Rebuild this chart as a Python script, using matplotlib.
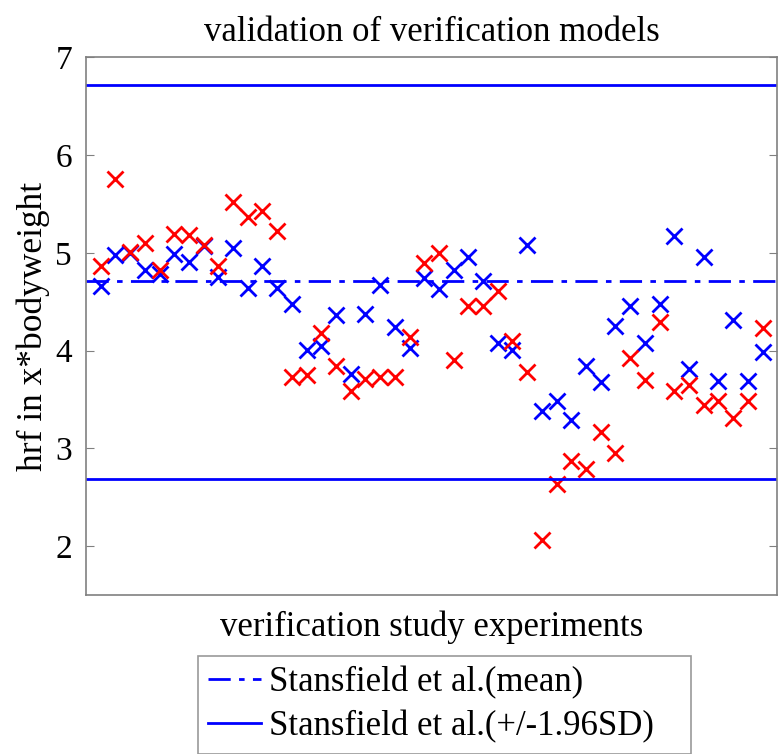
import matplotlib
matplotlib.use("Agg")
import matplotlib.pyplot as plt
import numpy as np

# hrf values (x*bodyweight) per verification experiment
experiments = np.arange(1, 47)
model_a = [4.66, 4.98, 5.00, 4.82, 4.78, 4.99, 4.91, 5.07, 4.75, 5.05,
           4.64, 4.86, 4.64, 4.48, 4.01, 4.05, 4.36, 3.76, 4.37, 4.67,
           4.24, 4.03, 4.74, 4.63, 4.82, 4.96, 4.71, 4.08, 4.01, 5.08,
           3.38, 3.48, 3.29, 3.84, 3.68, 4.25, 4.46, 4.08, 4.48, 5.17,
           3.81, 4.96, 3.69, 4.31, 3.69, 3.99]
model_b = [4.87, 5.75, 5.01, 5.10, 4.82, 5.19, 5.18, 5.08, 4.87, 5.52,
           5.37, 5.43, 5.22, 3.73, 3.75, 4.18, 3.84, 3.59, 3.71, 3.73,
           3.73, 4.14, 4.90, 5.00, 3.90, 4.46, 4.46, 4.61, 4.10, 3.78,
           2.06, 2.63, 2.87, 2.79, 3.17, 2.95, 3.92, 3.70, 4.29, 3.59,
           3.65, 3.44, 3.48, 3.31, 3.48, 4.23]

stansfield_mean = 4.71
stansfield_upper = 6.72
stansfield_lower = 2.69

plt.rcParams['font.family'] = ['Liberation Serif', 'DejaVu Serif']

fig = plt.figure(figsize=(7.78, 7.54), dpi=100)
ax = fig.add_axes([0.1105, 0.211, 0.8885, 0.713])

ax.plot(experiments, model_a, 'x', color='#0000ff', ms=11.5, mew=2)
ax.plot(experiments, model_b, 'x', color='#ff0000', ms=11.5, mew=2)

mean_line = ax.axhline(stansfield_mean, color='#0000ff', lw=2, ls='-.',
                       dashes=(8, 3, 2, 3))
sd_line = ax.axhline(stansfield_upper, color='#0000ff', lw=2)
ax.axhline(stansfield_lower, color='#0000ff', lw=2)

ax.set_xlim(0, 47)
ax.set_ylim(1.5, 7)
ax.set_xticks([])
ax.set_yticks([2, 3, 4, 5, 6, 7])
ax.tick_params(axis='y', direction='in', left=True, right=True, length=6,
               color='#808080', labelsize=24, pad=10)
for s in ax.spines.values():
    s.set_color('#808080')
    s.set_linewidth(1.2)

ax.set_title('validation of verification models', fontsize=25, pad=12)
ax.set_xlabel('verification study experiments', fontsize=25, labelpad=11)
ax.set_ylabel('hrf in x*bodyweight', fontsize=25.5, labelpad=4)

# trailing spaces give the wider right margin of the original legend box
leg = fig.legend([mean_line, sd_line],
                 ['Stansfield et al.(mean)', 'Stansfield et al.(+/-1.96SD)   '],
                 loc='upper left', bbox_to_anchor=(0.2545, 0.130),
                 fontsize=25, frameon=True, fancybox=False,
                 edgecolor='#808080', handlelength=1.5, handletextpad=0.25,
                 borderpad=0.3, labelspacing=0.3, borderaxespad=0)
leg.get_frame().set_linewidth(1.2)

fig.savefig('out.png', dpi=100)
